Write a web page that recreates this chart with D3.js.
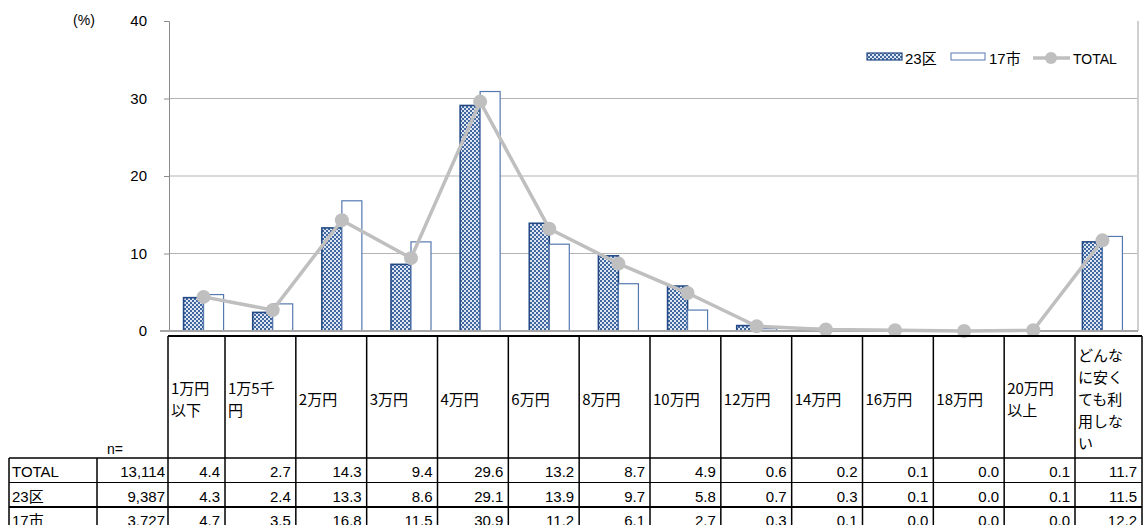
<!DOCTYPE html>
<html>
<head>
<meta charset="utf-8">
<script src="https://cdn.jsdelivr.net/npm/d3@7"></script>
<style>
  body { margin: 0; background: #fff; }
  text { font-family: "Liberation Sans", "Noto Sans CJK JP", sans-serif; }
</style>
</head>
<body>
<div id="chart"></div>
<script>
var categories = ['1万円以下', '1万5千円', '2万円', '3万円', '4万円', '6万円', '8万円',
  '10万円', '12万円', '14万円', '16万円', '18万円', '20万円以上', 'どんなに安くても利用しない'];
var headerLines = [['1万円', '以下'], ['1万5千', '円'], ['2万円'], ['3万円'], ['4万円'], ['6万円'], ['8万円'],
  ['10万円'], ['12万円'], ['14万円'], ['16万円'], ['18万円'], ['20万円', '以上'],
  ['どんな', 'に安く', 'ても利', '用しな', 'い']];
var totalVals = [4.4, 2.7, 14.3, 9.4, 29.6, 13.2, 8.7, 4.9, 0.6, 0.2, 0.1, 0.0, 0.1, 11.7];
var ku23Vals = [4.3, 2.4, 13.3, 8.6, 29.1, 13.9, 9.7, 5.8, 0.7, 0.3, 0.1, 0.0, 0.1, 11.5];
var shi17Vals = [4.7, 3.5, 16.8, 11.5, 30.9, 11.2, 6.1, 2.7, 0.3, 0.1, 0.0, 0.0, 0.0, 12.2];
var rowNames = ['TOTAL', '23区', '17市'];
var rowN = ['13,114', '9,387', '3,727'];
var yTicks = [0, 10, 20, 30, 40];

var W = 1145, H = 525;
var svg = d3.select('#chart').append('svg')
  .attr('width', W).attr('height', H)
  .style('background', '#fff');

// dotted fill for 23区
var pat = svg.append('defs').append('pattern')
  .attr('id', 'dots').attr('width', 4).attr('height', 4)
  .attr('patternUnits', 'userSpaceOnUse');
pat.append('rect').attr('width', 4).attr('height', 4).attr('fill', '#dfe7f4');
pat.append('rect').attr('width', 2).attr('height', 2).attr('fill', '#41679f');
pat.append('rect').attr('x', 2).attr('y', 2).attr('width', 2).attr('height', 2).attr('fill', '#41679f');

var x = d3.scaleBand().domain(categories).range([169, 1137]);
var y = d3.scaleLinear().domain([0, 40]).range([331, 21]);
var bw = 20;

// gridlines
svg.append('g').selectAll('line')
  .data(yTicks.filter(function(d) { return d > 0 && d < 40; }))
  .enter().append('line')
  .attr('x1', 169).attr('x2', 1137)
  .attr('y1', function(d) { return y(d); }).attr('y2', function(d) { return y(d); })
  .style('stroke', '#b3b3b3').style('stroke-width', 1.2);

// right border of plot
svg.append('line')
  .attr('x1', 1138).attr('x2', 1138).attr('y1', y(40)).attr('y2', y(0))
  .style('stroke', '#a0a0a0').style('stroke-width', 1);

// y axis
var yAxis = svg.append('g')
  .attr('transform', 'translate(169,0)')
  .call(d3.axisLeft(y).tickValues(yTicks).tickSize(5).tickPadding(17));
yAxis.select('.domain').style('stroke', '#8c8c8c');
yAxis.selectAll('.tick line').style('stroke', '#8c8c8c');
yAxis.selectAll('.tick text')
  .style('font-size', '15px').style('fill', '#000')
  .style('font-family', '"Liberation Sans", sans-serif');

svg.append('text')
  .attr('x', 84).attr('y', 25)
  .attr('text-anchor', 'middle')
  .style('font-size', '14px')
  .text('(%)');

// bars
svg.append('g').selectAll('rect')
  .data(ku23Vals)
  .enter().append('rect')
  .attr('x', function(d, i) { return x(categories[i]) + x.bandwidth() / 2 - bw; })
  .attr('y', function(d) { return y(d); })
  .attr('width', bw)
  .attr('height', function(d) { return y(0) - y(d); })
  .style('fill', 'url(#dots)')
  .style('stroke', '#244a85').style('stroke-width', 1.6);

svg.append('g').selectAll('rect')
  .data(shi17Vals)
  .enter().append('rect')
  .attr('x', function(d, i) { return x(categories[i]) + x.bandwidth() / 2; })
  .attr('y', function(d) { return y(d); })
  .attr('width', bw)
  .attr('height', function(d) { return y(0) - y(d); })
  .style('fill', '#fff')
  .style('stroke', '#5679b0').style('stroke-width', 1.2);

// zero line
svg.append('line')
  .attr('x1', 160).attr('x2', 1138).attr('y1', y(0)).attr('y2', y(0))
  .style('stroke', '#a6a6a6').style('stroke-width', 2);

// TOTAL line
var line = d3.line()
  .x(function(d, i) { return x(categories[i]) + x.bandwidth() / 2; })
  .y(function(d) { return y(d); });
svg.append('path')
  .datum(totalVals)
  .attr('d', line)
  .style('fill', 'none').style('stroke', '#bfbfbf').style('stroke-width', 3.5);
svg.append('g').selectAll('circle')
  .data(totalVals)
  .enter().append('circle')
  .attr('cx', function(d, i) { return x(categories[i]) + x.bandwidth() / 2; })
  .attr('cy', function(d) { return y(d); })
  .attr('r', 7)
  .style('fill', '#bfbfbf');

// legend
var lg = svg.append('g').style('font-size', '15px');
lg.append('rect').attr('x', 867).attr('y', 53).attr('width', 35).attr('height', 7)
  .style('fill', 'url(#dots)').style('stroke', '#244a85').style('stroke-width', 1.2);
lg.append('text').attr('x', 905).attr('y', 64).text('23区');
lg.append('rect').attr('x', 951).attr('y', 53).attr('width', 34).attr('height', 7)
  .style('fill', '#fff').style('stroke', '#5679b0').style('stroke-width', 1);
lg.append('text').attr('x', 989).attr('y', 64).text('17市');
lg.append('line').attr('x1', 1033).attr('x2', 1070).attr('y1', 58).attr('y2', 58)
  .style('stroke', '#bfbfbf').style('stroke-width', 3.5);
lg.append('circle').attr('cx', 1051).attr('cy', 58).attr('r', 6).style('fill', '#bfbfbf');
lg.append('text').attr('x', 1073).attr('y', 64).style('font-size', '14px').text('TOTAL');

// data table
var colEdges = [168, 225];
for (var k = 1; k < 13; k++) colEdges.push(225 + k * 850 / 12);
colEdges.push(1142);
var headTop = 336, headBot = 458, rowH = 24.5;
var tableBot = headBot + rowH * 3;
var tb = svg.append('g');

function hline(x1, x2, yy, w) {
  tb.append('line').attr('x1', x1).attr('x2', x2).attr('y1', yy).attr('y2', yy)
    .style('stroke', '#000').style('stroke-width', w);
}
function vline(xx, y1, y2, w) {
  tb.append('line').attr('x1', xx).attr('x2', xx).attr('y1', y1).attr('y2', y2)
    .style('stroke', '#000').style('stroke-width', w);
}

hline(168, 1142, headTop, 2);
colEdges.forEach(function(cx) { vline(cx, headTop, tableBot, 1.5); });
[9, 97].forEach(function(cx) { vline(cx, headBot, tableBot, 1.5); });
hline(9, 1142, headBot, 1.5);
hline(9, 1142, headBot + rowH, 1);
hline(9, 1142, headBot + rowH * 2, 2);

// header labels, one text per wrapped line
var lh = 22;
headerLines.forEach(function(lines, i) {
  var y0 = 400 - (lines.length - 1) * lh / 2 + 5;
  lines.forEach(function(s, j) {
    tb.append('text')
      .attr('x', colEdges[i] + 3).attr('y', y0 + j * lh)
      .style('font-size', '15px')
      .style('font-family', '"Noto Sans CJK JP", sans-serif')
      .text(s);
  });
});
tb.append('text').attr('x', 107).attr('y', 454).style('font-size', '14px').text('n=');

var tableRows = [totalVals, ku23Vals, shi17Vals];
tableRows.forEach(function(vals, r) {
  var base = headBot + r * rowH + 19;
  tb.append('text').attr('x', 12).attr('y', base).style('font-size', '15px').text(rowNames[r]);
  tb.append('text').attr('x', 165).attr('y', base).attr('text-anchor', 'end')
    .style('font-size', '15px').text(rowN[r]);
  vals.forEach(function(v, i) {
    tb.append('text').attr('x', colEdges[i + 1] - 5).attr('y', base)
      .attr('text-anchor', 'end').style('font-size', '15px')
      .text(v.toFixed(1));
  });
});
</script>
</body>
</html>
